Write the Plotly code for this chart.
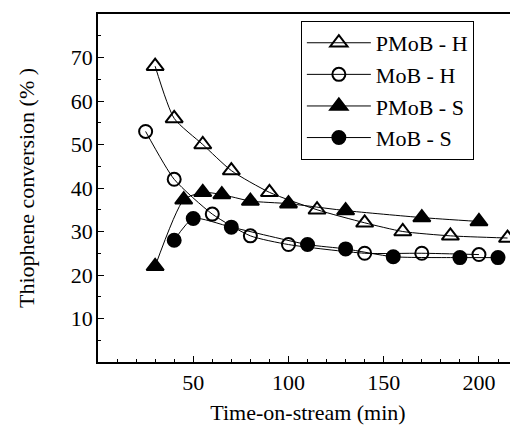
import plotly.graph_objects as go

# Data
pmob_h_x = [30, 40, 55, 70, 90, 115, 140, 160, 185, 215]
pmob_h_y = [68, 56, 50, 44, 39, 35, 32, 30, 29, 28.5]

mob_h_x = [25, 40, 60, 80, 100, 140, 170, 200]
mob_h_y = [53, 42, 34, 29, 27, 25, 25, 24.7]

pmob_s_x = [30, 45, 55, 65, 80, 100, 130, 170, 200]
pmob_s_y = [22, 37.3, 39, 38.5, 37, 36.4, 34.8, 33.2, 32.3]

mob_s_x = [40, 50, 70, 110, 130, 155, 190, 210]
mob_s_y = [28, 33, 31, 27, 26, 24.2, 24, 24]

x_ticks = [50, 100, 150, 200]
y_ticks = [10, 20, 30, 40, 50, 60, 70]

FONT = "Liberation Serif"

series = [
    ("PMoB - H", pmob_h_x, pmob_h_y, "triangle-up-open", 15),
    ("MoB - H", mob_h_x, mob_h_y, "circle-open", 13),
    ("PMoB - S", pmob_s_x, pmob_s_y, "triangle-up", 15),
    ("MoB - S", mob_s_x, mob_s_y, "circle", 13),
]

fig = go.Figure()
for name, xs, ys, sym, sz in series:
    fig.add_trace(go.Scatter(
        x=xs, y=ys, name=name, mode="lines+markers",
        line=dict(color="black", width=1, shape="spline", smoothing=0.6),
        marker=dict(symbol=sym, size=sz, color="black",
                    line=dict(color="black", width=2)),
    ))

fig.update_layout(
    width=510, height=418,
    margin=dict(l=90, r=0, t=6, b=64),
    paper_bgcolor="white", plot_bgcolor="white",
    font=dict(family=FONT, size=22, color="black"),
    showlegend=True,
    legend=dict(
        x=0.483, y=0.98, xanchor="left", yanchor="top",
        bordercolor="black", borderwidth=1, bgcolor="white",
        font=dict(family=FONT, size=22, color="black"),
        itemwidth=64, tracegroupgap=0,
    ),
)

fig.update_xaxes(
    range=[0, 220.5], tickvals=x_ticks, ticks="inside", ticklen=6,
    tickwidth=1, tickcolor="black",
    minor=dict(dtick=10, tick0=0, ticks="inside", ticklen=3, tickcolor="black"),
    showline=True, linecolor="black", linewidth=1.5, mirror=True,
    showgrid=False, zeroline=False,
    tickfont=dict(family=FONT, size=22),
    title=dict(text="Time-on-stream (min)", font=dict(family=FONT, size=22), standoff=10),
)
fig.update_yaxes(
    range=[0, 80], tickvals=y_ticks, ticks="inside", ticklen=6,
    tickwidth=1, tickcolor="black",
    minor=dict(dtick=5, tick0=0, ticks="inside", ticklen=3, tickcolor="black"),
    showline=True, linecolor="black", linewidth=1.5, mirror=False,
    showgrid=False, zeroline=False,
    tickfont=dict(family=FONT, size=22),
    ticklabelstandoff=-1,
    title=dict(text="Thiophene conversion (% )", font=dict(family=FONT, size=22), standoff=30),
)

fig.write_html("out.html")
